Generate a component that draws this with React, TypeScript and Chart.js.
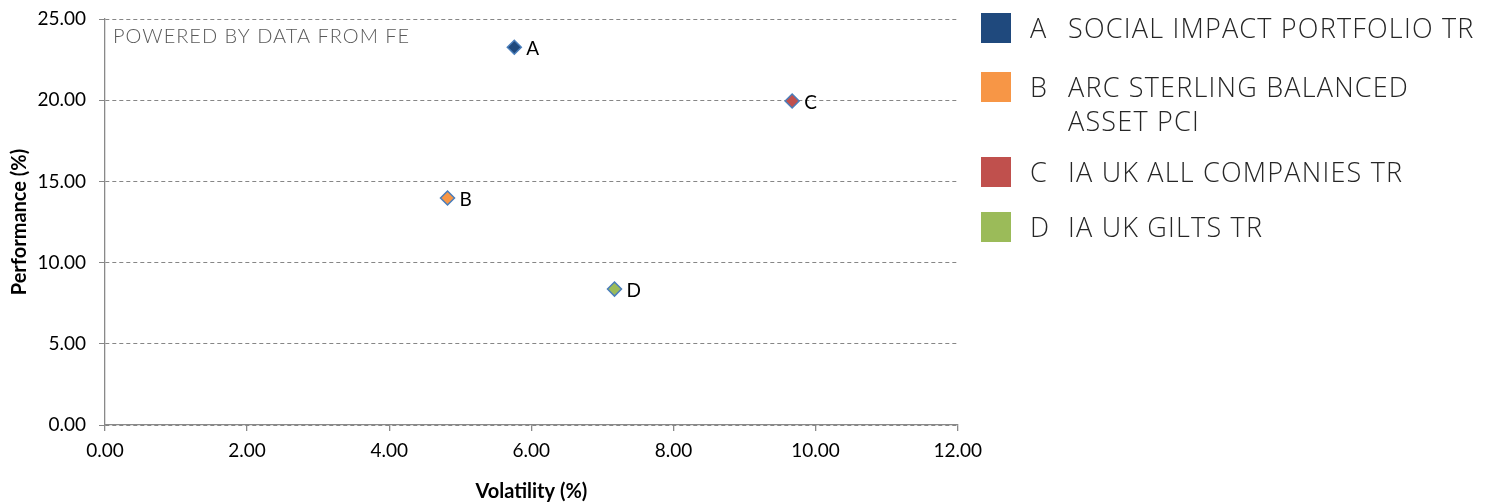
import React, { useEffect, useRef } from "react";
import { Chart, registerables } from "chart.js";

Chart.register(...registerables);

const seriesLetters = ["A", "B", "C", "D"];
const seriesNames = [
  "SOCIAL IMPACT PORTFOLIO TR",
  "ARC STERLING BALANCED ASSET PCI",
  "IA UK ALL COMPANIES TR",
  "IA UK GILTS TR",
];
const volatility = [5.76, 4.82, 9.67, 7.17];
const performance = [23.26, 13.98, 19.95, 8.37];
const seriesColors = ["#1F497D", "#F79646", "#C0504D", "#9BBB59"];
const xTicks = [0, 2, 4, 6, 8, 10, 12];
const yTicks = [0, 5, 10, 15, 20, 25];
const watermark = "POWERED BY DATA FROM FE";

const FONT = "Lato, 'Open Sans', sans-serif";

const labelPlugin = {
  id: "pointLetters",
  afterDatasetsDraw(chart: any) {
    const ctx = chart.ctx;
    ctx.save();
    ctx.font = `19px ${FONT}`;
    ctx.fillStyle = "#000000";
    ctx.textBaseline = "middle";
    ctx.textAlign = "left";
    chart.data.datasets.forEach((ds: any, i: number) => {
      const meta = chart.getDatasetMeta(i);
      meta.data.forEach((el: any) => {
        ctx.fillText(seriesLetters[i], el.x + 12, el.y + 2);
      });
    });
    const area = chart.chartArea;
    ctx.font = `300 20px ${FONT}`;
    ctx.fillStyle = "#595959";
    (ctx as any).letterSpacing = "1px";
    ctx.fillText(watermark, area.left + 8, area.top + 18);
    ctx.restore();
  },
};

export default function App() {
  const ref = useRef<HTMLCanvasElement>(null);
  useEffect(() => {
    if (!ref.current) return;
    const chart = new Chart(ref.current, {
      type: "scatter",
      data: {
        datasets: seriesLetters.map((l, i) => ({
          label: l + " " + seriesNames[i],
          data: [{ x: volatility[i], y: performance[i] }],
          pointStyle: "rectRot",
          pointRadius: 7,
          pointHoverRadius: 7,
          backgroundColor: seriesColors[i],
          borderColor: "#4A7EBB",
          borderWidth: 1.5,
        })),
      },
      options: {
        animation: false,
        responsive: false,
        maintainAspectRatio: false,
        layout: { padding: { left: 0, right: 0, top: 19, bottom: 0 } },
        plugins: {
          legend: { display: false },
          tooltip: { enabled: false },
        },
        scales: {
          x: {
            type: "linear",
            min: 0,
            max: 12,
            afterBuildTicks: (s: any) => {
              s.ticks = xTicks.map((v) => ({ value: v }));
            },
            afterFit: (s: any) => {
              s.height = 79;
            },
            ticks: {
              callback: (v: any) => Number(v).toFixed(2),
              font: { family: FONT, size: 19 },
              color: "#000000",
              padding: 8,
              maxRotation: 0,
            },
            grid: {
              drawOnChartArea: false,
              drawTicks: true,
              tickLength: 6,
              color: "#898989",
              lineWidth: 1.3,
            },
            border: { display: true, color: "#898989", width: 1.3 },
            title: {
              display: true,
              text: "Volatility (%)",
              font: { family: FONT, size: 20, weight: "bold" },
              color: "#000000",
              padding: { top: 0, bottom: 0 },
            },
          },
          y: {
            type: "linear",
            min: 0,
            max: 25,
            afterBuildTicks: (s: any) => {
              s.ticks = yTicks.map((v) => ({ value: v }));
            },
            afterFit: (s: any) => {
              s.width = 105;
              s.paddingTop = 4;
              s.paddingBottom = 4;
            },
            ticks: {
              callback: (v: any) => Number(v).toFixed(2),
              font: { family: FONT, size: 19 },
              color: "#000000",
              padding: 13,
            },
            grid: {
              drawOnChartArea: true,
              drawTicks: true,
              tickLength: 6,
              color: "#868686",
              lineWidth: 1,
            },
            border: { display: true, color: "#898989", width: 1.3, dash: [4, 3] },
            title: {
              display: true,
              text: "Performance (%)",
              font: { family: FONT, size: 20, weight: "bold" },
              color: "#000000",
              padding: { top: 8, bottom: 0 },
            },
          },
        },
      },
      plugins: [labelPlugin],
    } as any);
    return () => chart.destroy();
  }, []);

  const legendTops = [13, 72, 157, 212];
  return (
    <div style={{ position: "fixed", left: 0, top: 0, width: 1492, height: 504, background: "#fff" }}>
      <canvas ref={ref} width={990} height={504} style={{ position: "absolute", left: 0, top: 0, width: 990, height: 504 }} />
      {seriesLetters.map((l, i) => (
        <div key={l} style={{ position: "absolute", left: 981, top: legendTops[i], display: "flex", alignItems: "flex-start" }}>
          <div style={{ width: 30, height: 30, background: seriesColors[i], flex: "none" }} />
          <div
            style={{
              fontFamily: "'Open Sans', sans-serif",
              fontWeight: 300,
              fontSize: 27,
              lineHeight: "34px",
              color: "#262626",
              marginLeft: 19,
              marginTop: -2,
              width: 38,
              flex: "none",
            }}
          >
            {l}
          </div>
          <div
            style={{
              fontFamily: "'Open Sans', sans-serif",
              fontWeight: 300,
              fontSize: 27,
              lineHeight: "34px",
              color: "#262626",
              letterSpacing: "1.2px",
              marginTop: -2,
              width: 420,
            }}
          >
            {seriesNames[i]}
          </div>
        </div>
      ))}
    </div>
  );
}
